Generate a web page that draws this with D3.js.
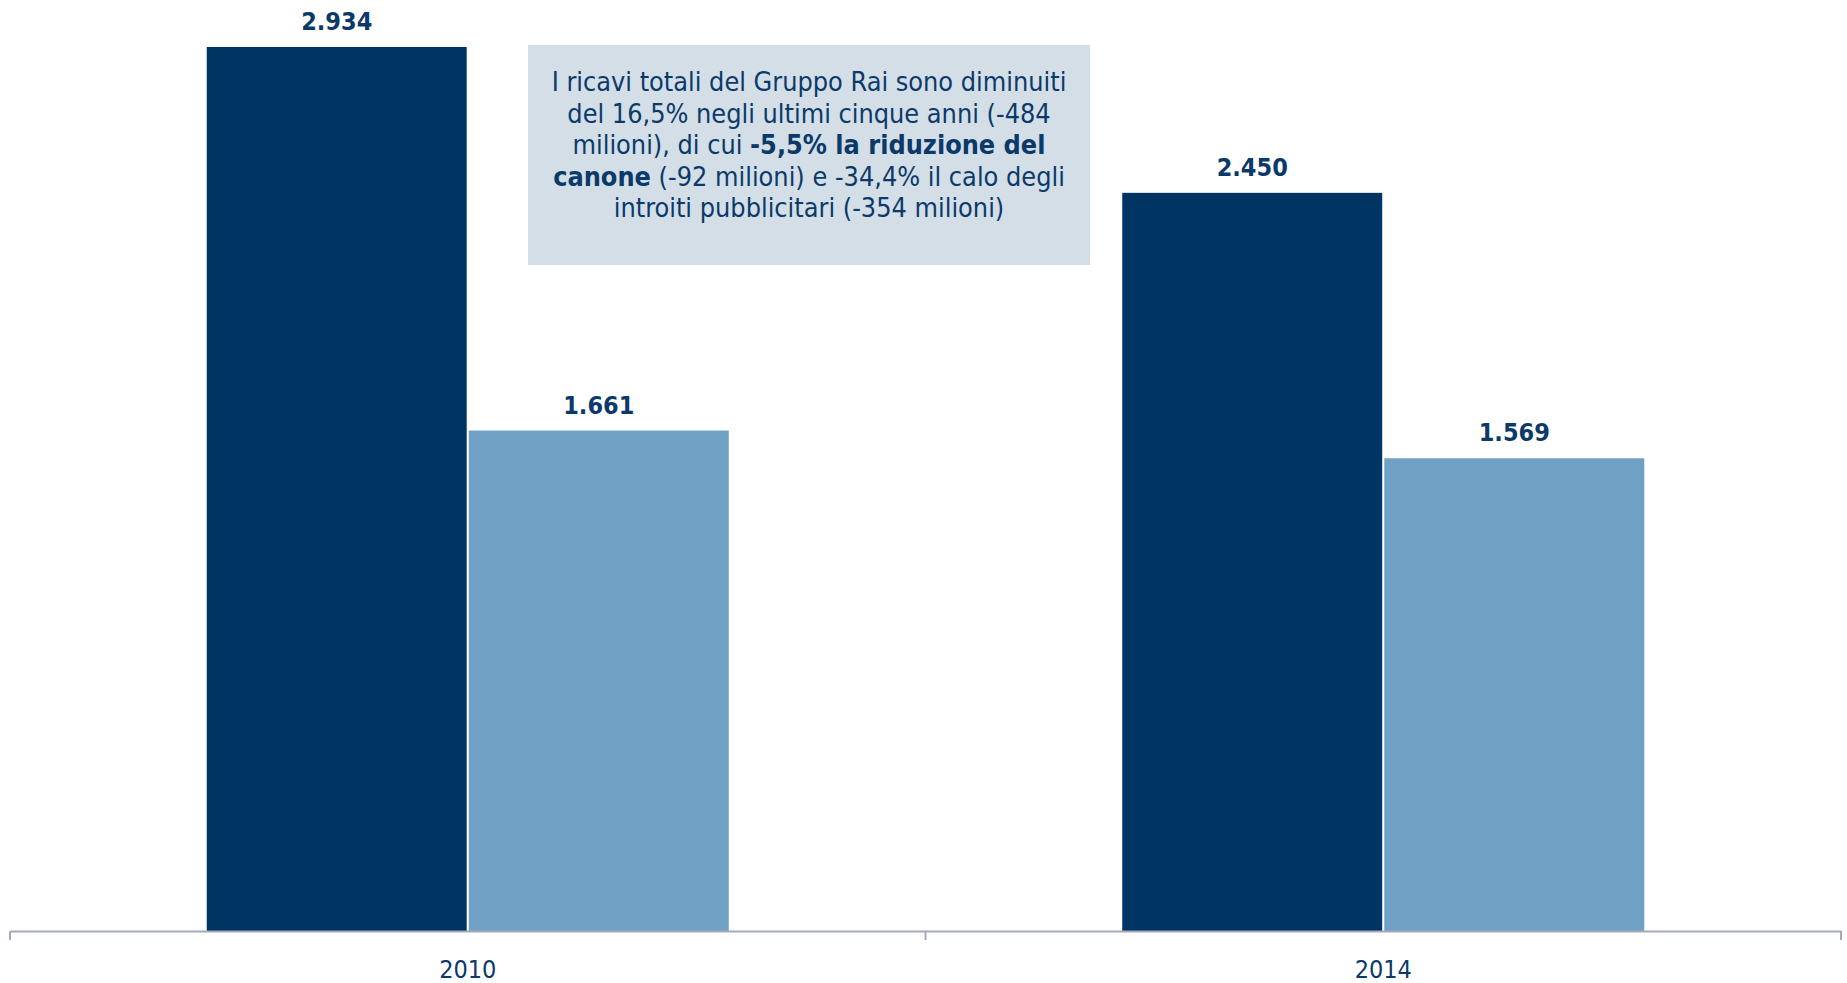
<!DOCTYPE html>
<html>
<head>
<meta charset="utf-8">
<script src="https://cdn.jsdelivr.net/npm/d3@7"></script>
<style>
  html, body { margin: 0; padding: 0; background: #ffffff; }
  svg { display: block; }
  text { font-family: "DejaVu Sans Condensed", "DejaVu Sans", sans-serif; }
</style>
</head>
<body>
<svg id="chart" width="1847" height="983"></svg>
<script>
// Rai group revenues (million euro)
const categories = ["2010", "2014"];
const seriesKeys = ["ricaviTotali", "canone"];
const ricaviTotali = [2934, 2450];
const canone = [1661, 1569];
const seriesColors = ["#003563", "#70a1c5"];

// Annotation text: each line is a list of [text, bold] runs
const noteLines = [
  [["I ricavi totali del Gruppo Rai sono diminuiti", false]],
  [["del 16,5% negli ultimi cinque anni (-484", false]],
  [["milioni), di cui ", false], ["-5,5% la riduzione del", true]],
  [["canone", true], [" (-92 milioni) e -34,4% il calo degli", false]],
  [["introiti pubblicitari (-354 milioni)", false]]
];

const seriesValues = { ricaviTotali, canone };
const rows = categories.map((c, i) => ({
  category: c,
  values: seriesKeys.map(k => ({ key: k, value: seriesValues[k][i] }))
}));

const W = 1847, H = 983;
const baseY = 931;
const svg = d3.select("#chart");

const itFormat = d3.formatLocale({ decimal: ",", thousands: ".", grouping: [3], currency: ["€", ""] }).format(",d");

const x0 = d3.scaleBand().domain(categories).range([10, 1841]).paddingInner(0).paddingOuter(0);
const groupW = 522;
const x1 = d3.scaleBand().domain(seriesKeys).range([0, groupW]).paddingInner(0.008).paddingOuter(0);
const y = d3.scaleLinear().domain([0, 3090]).range([baseY, 0]);
const color = d3.scaleOrdinal().domain(seriesKeys).range(seriesColors);

// Bars
const groups = svg.append("g").selectAll("g")
  .data(rows)
  .join("g")
  .attr("transform", d => `translate(${x0(d.category) + (x0.bandwidth() - groupW) / 2},0)`);

groups.selectAll("rect")
  .data(d => d.values)
  .join("rect")
  .attr("x", d => x1(d.key))
  .attr("y", d => y(d.value))
  .attr("width", x1.bandwidth())
  .attr("height", d => baseY - y(d.value))
  .attr("fill", d => color(d.key));

// Value labels
groups.selectAll("text.val")
  .data(d => d.values)
  .join("text")
  .attr("class", "val")
  .attr("x", d => x1(d.key) + x1.bandwidth() / 2)
  .attr("y", d => y(d.value) - 17)
  .attr("text-anchor", "middle")
  .attr("font-size", 25)
  .attr("font-weight", "bold")
  .attr("fill", "#0b3a6a")
  .text(d => itFormat(d.value));

// Category axis
const axis = svg.append("g")
  .attr("transform", `translate(0,${baseY})`)
  .call(d3.axisBottom(x0).tickSize(0).tickPadding(29));
axis.select(".domain").attr("stroke", "#a4a9bd").attr("stroke-width", 2);
axis.selectAll(".tick text")
  .attr("font-size", 25)
  .attr("fill", "#0b3a6a")
  .attr("font-family", "\"DejaVu Sans Condensed\", \"DejaVu Sans\", sans-serif");

// Category boundary ticks
const bounds = categories.map(c => x0(c)).concat([x0.range()[1]]);
axis.selectAll("line.bound")
  .data(bounds)
  .join("line")
  .attr("class", "bound")
  .attr("x1", d => d).attr("x2", d => d)
  .attr("y1", 0).attr("y2", 9)
  .attr("stroke", "#a4a9bd")
  .attr("stroke-width", 2);

// Annotation box
const box = { x: 528, y: 45, w: 562, h: 220 };
svg.append("rect")
  .attr("x", box.x).attr("y", box.y)
  .attr("width", box.w).attr("height", box.h)
  .attr("fill", "#d3dee7");

const note = svg.append("text")
  .attr("text-anchor", "middle")
  .attr("font-size", 26.8)
  .attr("fill", "#0b3a6a");

noteLines.forEach((line, i) => {
  const t = note.append("tspan")
    .attr("x", box.x + box.w / 2)
    .attr("y", 91 + i * 31.6);
  line.forEach(([str, bold], j) => {
    (j === 0 ? t : note.append("tspan"))
      .attr("font-weight", bold ? "bold" : "normal")
      .text(str);
  });
});
</script>
</body>
</html>
